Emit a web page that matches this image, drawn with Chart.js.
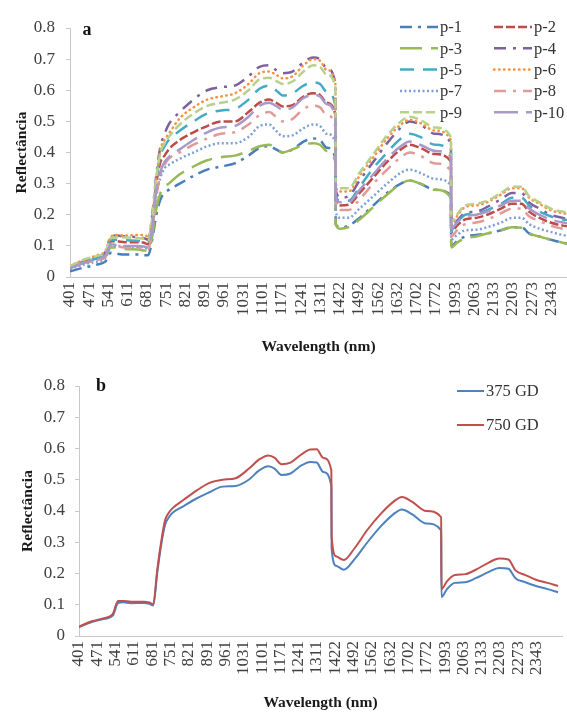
<!DOCTYPE html>
<html>
<head>
<meta charset="utf-8">
<script src="https://cdn.jsdelivr.net/npm/chart.js@4"></script>
<style>
  html, body { margin: 0; padding: 0; background: #fff; }
  #wrap { position: relative; width: 567px; height: 713px; overflow: hidden; }
  canvas { position: absolute; left: 0; }
</style>
</head>
<body>
<div id="wrap">
  <canvas id="chartA" width="567" height="357" style="top:0"></canvas>
  <canvas id="chartB" width="567" height="356" style="top:357px"></canvas>
</div>
<script>
// sampled wavelengths (nm); water bands 1367-1407 and 1828-1978 are left out
const wavelengths = [401,450,500,530,550,570,600,650,670,685,
  700,715,730,745,760,
  800,850,900,950,1000,1050,1090,1125,1150,1175,1210,1250,1285,1310,1335,1366,
  1408,1425,1455,1495,1545,1595,1645,1677,1715,1770,1827,
  1979,2000,2030,2070,2110,2160,2200,2235,2262,2300,2340,2385,2425];

const xTickLabels = [401,471,541,611,681,751,821,891,961,1031,1101,1171,1241,1311,
  1422,1492,1562,1632,1702,1772,1993,2063,2133,2203,2273,2343];

const yTicks = [0,0.1,0.2,0.3,0.4,0.5,0.6,0.7,0.8];

// panel a
const p1 = [.018,.03,.04,.05,.078,.075,.072,.072,.07,.07,
  .12,.2,.25,.27,.28,
  .30,.325,.345,.355,.365,.39,.415,.42,.41,.40,.41,.435,.445,.44,.415,.38,
  .17,.16,.165,.19,.23,.27,.30,.31,.30,.28,.26,
  .10,.115,.13,.135,.14,.15,.16,.16,.14,.13,.12,.11,.105];
const p2 = [.03,.05,.06,.07,.115,.115,.112,.112,.11,.105,
  .17,.3,.37,.39,.41,
  .44,.465,.485,.50,.50,.53,.56,.57,.56,.548,.552,.58,.59,.585,.56,.52,
  .25,.23,.232,.27,.32,.37,.41,.425,.415,.395,.37,
  .145,.165,.185,.19,.20,.22,.235,.235,.21,.19,.175,.165,.16];
const p3 = [.03,.045,.055,.065,.095,.095,.09,.088,.085,.085,
  .13,.22,.27,.29,.30,
  .33,.355,.375,.385,.39,.405,.42,.425,.41,.40,.41,.425,.43,.425,.405,.37,
  .17,.155,.16,.185,.225,.265,.30,.31,.30,.28,.255,
  .095,.11,.125,.13,.14,.15,.16,.158,.14,.13,.12,.11,.10];
const p4 = [.032,.05,.065,.08,.13,.133,.13,.128,.125,.12,
  .2,.33,.42,.46,.49,
  .53,.57,.60,.61,.615,.645,.675,.68,.665,.655,.66,.69,.705,.70,.67,.62,
  .28,.255,.26,.31,.37,.43,.48,.50,.49,.46,.43,
  .155,.18,.205,.21,.225,.25,.27,.27,.24,.22,.20,.19,.185];
const p5 = [.03,.05,.06,.075,.12,.12,.118,.116,.115,.11,
  .18,.31,.39,.42,.44,
  .47,.50,.525,.535,.54,.57,.605,.615,.60,.583,.59,.615,.625,.62,.595,.55,
  .26,.245,.245,.29,.35,.40,.445,.46,.45,.425,.40,
  .15,.175,.20,.205,.215,.235,.255,.255,.23,.21,.195,.185,.18];
const p6 = [.035,.055,.07,.085,.13,.135,.133,.135,.135,.13,
  .19,.32,.41,.44,.46,
  .51,.545,.57,.58,.59,.62,.655,.66,.65,.638,.645,.68,.70,.695,.665,.62,
  .29,.275,.275,.325,.385,.445,.49,.505,.495,.47,.44,
  .17,.195,.225,.23,.24,.265,.285,.285,.255,.235,.215,.205,.20];
const p7 = [.025,.04,.05,.06,.10,.10,.098,.097,.095,.092,
  .15,.26,.32,.35,.36,
  .38,.40,.42,.43,.43,.45,.485,.49,.47,.452,.455,.478,.49,.485,.46,.43,
  .21,.19,.19,.22,.26,.30,.335,.345,.335,.315,.295,
  .12,.135,.15,.152,.16,.175,.19,.19,.17,.155,.145,.135,.13];
const p8 = [.028,.045,.055,.065,.10,.098,.095,.093,.09,.088,
  .15,.26,.33,.36,.38,
  .40,.425,.445,.46,.465,.49,.52,.53,.515,.50,.508,.54,.55,.545,.52,.48,
  .24,.215,.215,.25,.30,.345,.385,.40,.39,.365,.34,
  .13,.15,.17,.175,.185,.205,.22,.22,.195,.18,.165,.155,.15];
const p9 = [.035,.055,.068,.08,.125,.128,.127,.125,.123,.118,
  .19,.32,.40,.43,.45,
  .49,.525,.55,.56,.57,.60,.635,.64,.63,.62,.628,.66,.68,.675,.65,.61,
  .30,.285,.285,.335,.395,.455,.50,.515,.505,.48,.45,
  .175,.20,.23,.235,.245,.27,.29,.29,.26,.24,.22,.21,.205];
const p10 = [.028,.045,.058,.07,.105,.103,.10,.10,.098,.095,
  .16,.28,.34,.37,.385,
  .41,.44,.465,.48,.485,.515,.55,.56,.55,.537,.545,.575,.585,.58,.555,.51,
  .26,.24,.24,.28,.33,.38,.42,.435,.425,.405,.385,
  .155,.175,.195,.20,.21,.23,.245,.245,.22,.20,.185,.175,.17];

// panel b
const gd375 = [.028,.045,.055,.065,.105,.108,.105,.106,.103,.098,
  .20,.29,.355,.38,.395,
  .415,.44,.46,.478,.48,.50,.53,.543,.535,.515,.52,.545,.557,.555,.525,.48,
  .28,.225,.212,.245,.30,.35,.39,.405,.39,.36,.338,
  .125,.15,.17,.172,.185,.205,.218,.215,.185,.172,.16,.15,.14];
const gd750 = [.03,.047,.058,.07,.112,.112,.11,.11,.107,.102,
  .21,.30,.37,.395,.41,
  .435,.465,.49,.50,.505,.535,.565,.578,.57,.55,.555,.58,.597,.598,.57,.53,
  .32,.255,.243,.28,.34,.39,.43,.445,.43,.40,.38,
  .15,.175,.195,.198,.212,.235,.248,.245,.21,.195,.18,.17,.16];

// position of a wavelength on the gapped band axis
const band = wl => wl <= 1366 ? wl - 401 : wl <= 1827 ? wl - 442 : wl - 593;
const toPoints = vals => vals.map((v, i) => ({ x: band(wavelengths[i]), y: v }));

Chart.defaults.font.family = '"Liberation Serif", "Times New Roman", serif';
Chart.defaults.font.size = 17;
Chart.defaults.color = '#404040';

const boxLegend = {
  id: 'boxLegend',
  afterDraw(chart, args, opts) {
    const ctx = chart.ctx;
    ctx.save();
    ctx.font = opts.font;
    ctx.fillStyle = '#333';
    ctx.textBaseline = 'middle';
    chart.data.datasets.forEach((ds, i) => {
      const col = i % opts.columns, row = Math.floor(i / opts.columns);
      const x = opts.x + col * opts.colWidth, y = opts.y + row * opts.rowHeight;
      ctx.strokeStyle = ds.borderColor;
      ctx.lineWidth = ds.borderWidth;
      ctx.lineCap = ds.borderCapStyle || 'butt';
      ctx.setLineDash(ds.borderDash || []);
      ctx.beginPath();
      ctx.moveTo(x, y);
      ctx.lineTo(x + opts.lineLength, y);
      ctx.stroke();
      ctx.setLineDash([]);
      ctx.fillText(ds.label, x + opts.lineLength + opts.gap, y + 1);
    });
    ctx.restore();
  }
};

const panelLabel = {
  id: 'panelLabel',
  afterDraw(chart, args, opts) {
    const ctx = chart.ctx;
    ctx.save();
    ctx.font = 'bold 18px "Liberation Serif", serif';
    ctx.fillStyle = '#111';
    ctx.textAlign = 'center';
    ctx.textBaseline = 'middle';
    ctx.fillText(opts.text, opts.x, opts.y);
    ctx.restore();
  }
};

function makeOptions(cfg) {
  return {
    responsive: false,
    animation: false,
    layout: { padding: { top: cfg.top, right: cfg.right, left: 0, bottom: 0 } },
    elements: { point: { radius: 0 }, line: { cubicInterpolationMode: 'monotone', borderJoinStyle: 'round' } },
    plugins: {
      legend: { display: false },
      tooltip: { enabled: false },
      boxLegend: cfg.legend,
      panelLabel: cfg.label
    },
    scales: {
      x: {
        type: 'linear',
        min: 0,
        max: cfg.xMax,
        afterFit: s => { s.height = cfg.xHeight; s.paddingLeft = 0; s.paddingRight = 0; },
        afterBuildTicks: s => { s.ticks = xTickLabels.map(w => ({ value: band(w) })); },
        ticks: {
          autoSkip: false, minRotation: 90, maxRotation: 90, padding: 5,
          callback: (v, i) => String(xTickLabels[i])
        },
        grid: { display: false, drawTicks: false },
        border: { display: true, color: '#c8c8c8' },
        title: { display: true, text: 'Wavelength (nm)', color: '#1a1a1a',
                 font: { size: 15.5, weight: 'bold' }, padding: { top: 0, bottom: 1 } }
      },
      y: {
        min: 0,
        max: 0.8,
        afterFit: s => { s.width = cfg.yWidth; },
        afterBuildTicks: s => { s.ticks = yTicks.map(v => ({ value: v })); },
        ticks: { padding: cfg.yPad, callback: v => String(+v.toFixed(1)) },
        grid: { drawOnChartArea: false, tickLength: 4, color: '#c8c8c8' },
        border: { display: true, color: '#c8c8c8' },
        title: { display: true, text: 'Reflectância', color: '#1a1a1a',
                 font: { size: 15.5, weight: 'bold' }, padding: { top: cfg.yTitlePad, bottom: 0 } }
      }
    }
  };
}

const seriesA = [
  { label: 'p-1',  data: p1,  color: '#4a7ebb', dash: [12, 6, 3, 6] },
  { label: 'p-2',  data: p2,  color: '#be4b48', dash: [9, 3] },
  { label: 'p-3',  data: p3,  color: '#98b954', dash: [22, 9] },
  { label: 'p-4',  data: p4,  color: '#7d60a0', dash: [12, 7, 3, 7] },
  { label: 'p-5',  data: p5,  color: '#46aac5', dash: [14, 9] },
  { label: 'p-6',  data: p6,  color: '#f69240', dash: [0.5, 4.5], cap: 'round' },
  { label: 'p-7',  data: p7,  color: '#7ea0d6', dash: [2, 2.5] },
  { label: 'p-8',  data: p8,  color: '#e09b98', dash: [12, 7, 3, 7] },
  { label: 'p-9',  data: p9,  color: '#b8d08c', dash: [9, 4] },
  { label: 'p-10', data: p10, color: '#a899c8', dash: [24, 8] }
];

new Chart(document.getElementById('chartA'), {
  type: 'line',
  data: {
    datasets: seriesA.map((s, i) => ({
      label: s.label,
      data: toPoints(s.data),
      borderColor: s.color,
      borderWidth: 2.5,
      borderDash: s.dash,
      borderCapStyle: s.cap || 'butt',
      order: seriesA.length - i
    }))
  },
  options: makeOptions({
    top: 28, right: 0, xMax: 1807, xHeight: 80, yWidth: 70, yPad: 11, yTitlePad: 12.5,
    legend: { x: 400, y: 27, columns: 2, colWidth: 94, rowHeight: 21.3, lineLength: 38, gap: 2,
              font: '16.5px "Liberation Serif", serif' },
    label: { text: 'a', x: 87, y: 30 }
  }),
  plugins: [boxLegend, panelLabel]
});

new Chart(document.getElementById('chartB'), {
  type: 'line',
  data: {
    datasets: [
      { label: '375 GD', data: toPoints(gd375), borderColor: '#4f81bd', borderWidth: 2, order: 2 },
      { label: '750 GD', data: toPoints(gd750), borderColor: '#c0504d', borderWidth: 2, order: 1 }
    ]
  },
  options: makeOptions({
    top: 29, right: 5, xMax: 1847, xHeight: 77, yWidth: 79, yPad: 10, yTitlePad: 18.5,
    legend: { x: 457, y: 34, columns: 1, colWidth: 0, rowHeight: 34, lineLength: 27, gap: 2,
              font: '16.5px "Liberation Serif", serif' },
    label: { text: 'b', x: 101, y: 29 }
  }),
  plugins: [boxLegend, panelLabel]
});
</script>
</body>
</html>
